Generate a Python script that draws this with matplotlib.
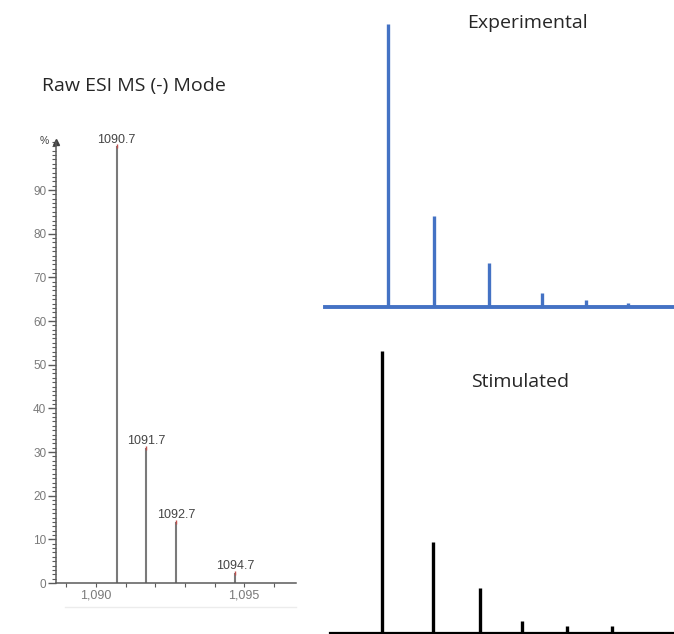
import matplotlib.pyplot as plt
from matplotlib.ticker import MultipleLocator, FuncFormatter
from matplotlib.lines import Line2D

# Raw ESI MS (-) spectrum
raw_mz = [1090.7, 1091.7, 1092.7, 1094.7]
raw_pct = [100, 31, 14, 2.3]
raw_labels = ['1090.7', '1091.7', '1092.7', '1094.7']

# Experimental isotope pattern (relative position, relative intensity)
exp_pos = [6.3, 10.9, 16.4, 21.7, 26.1, 30.3]
exp_int = [100, 32.2, 15.5, 4.9, 2.5, 1.4]

# Simulated isotope pattern
sim_pos = [5.2, 10.3, 15.0, 19.2, 23.7, 28.2]
sim_int = [100, 32.3, 16.0, 4.3, 2.5, 2.5]

W, H = 674, 634
fig = plt.figure(figsize=(W / 100, H / 100), dpi=100)


def box(l, t, r, b):
    return [l / W, 1 - b / H, (r - l) / W, (b - t) / H]


title_font = 'Open Sans'
title_size = 14
gray = '#7a7a7a'
axis_gray = '#5a5a5a'

# ---- left panel: raw spectrum ----
ax = fig.add_axes(box(56, 142, 296, 583))
ax.vlines(raw_mz, 0, raw_pct, color=gray, lw=1.5)
ax.plot(raw_mz, raw_pct, '|', color='#c0504d', ms=3, mew=1)
for mz, p, lab in zip(raw_mz, raw_pct, raw_labels):
    ax.annotate(lab, (mz, p), xytext=(0, 0.5), textcoords='offset points',
                ha='center', va='bottom', fontsize=9, color='#454545',
                family='Liberation Sans')
ax.set_xlim(1088.65, 1096.75)
ax.set_ylim(0, 101)
ax.set_yticks(range(0, 100, 10))
ax.yaxis.set_minor_locator(MultipleLocator(1))
ax.xaxis.set_major_locator(MultipleLocator(5))
ax.xaxis.set_minor_locator(MultipleLocator(1))
ax.xaxis.set_major_formatter(FuncFormatter(lambda v, p: f'{int(v):,}'))
for s in ['top', 'right']:
    ax.spines[s].set_visible(False)
for s in ['left', 'bottom']:
    ax.spines[s].set_color(axis_gray)
    ax.spines[s].set_linewidth(1.1)
ax.tick_params(axis='y', which='major', length=6, width=1, color=axis_gray,
               labelsize=8.5, labelcolor=gray, pad=1)
ax.tick_params(axis='y', which='minor', length=3, width=0.8, color=axis_gray)
ax.tick_params(axis='x', which='both', length=3, width=0.8, color=axis_gray,
               labelsize=9, labelcolor=gray, pad=2)
for t in ax.get_xticklabels() + ax.get_yticklabels():
    t.set_family('Liberation Sans')
ax.plot([0], [1], marker='^', transform=ax.transAxes, clip_on=False,
        color='#404040', ms=5)
fig.text(44 / W, 1 - 141 / H, '%', fontsize=7.5, color='#404040',
         ha='center', va='center', family='Liberation Sans')
fig.add_artist(Line2D([65 / W, 296 / W], [1 - 607 / H, 1 - 607 / H],
                      color='#ececec', lw=1))
fig.text(42 / W, 1 - 86 / H, 'Raw ESI MS (-) Mode', fontsize=title_size,
         ha='left', va='center', family=title_font, color='#262626')

# ---- top right: experimental ----
ax2 = fig.add_axes(box(325, 24, 674, 307))
ax2.vlines(exp_pos, 0, exp_int, color='#4472c4', lw=2.4)
ax2.set_xlim(0, 34.9)
ax2.set_ylim(0, 100)
for s in ['top', 'right', 'left']:
    ax2.spines[s].set_visible(False)
ax2.spines['bottom'].set_color('#4472c4')
ax2.spines['bottom'].set_linewidth(2.8)
ax2.set_xticks([])
ax2.set_yticks([])
ax2.patch.set_alpha(0)
fig.text(527 / W, 1 - 23 / H, 'Experimental', fontsize=title_size,
         ha='center', va='center', family=title_font, color='#262626')

# ---- bottom right: simulated ----
ax3 = fig.add_axes(box(330, 351, 674, 633))
ax3.vlines(sim_pos, 0, sim_int, color='black', lw=2.4)
ax3.set_xlim(0, 34.4)
ax3.set_ylim(0, 100)
for s in ['top', 'right', 'left']:
    ax3.spines[s].set_visible(False)
ax3.spines['bottom'].set_linewidth(1.6)
ax3.set_xticks([])
ax3.set_yticks([])
ax3.patch.set_alpha(0)
fig.text(520 / W, 1 - 382 / H, 'Stimulated', fontsize=title_size,
         ha='center', va='center', family=title_font, color='#262626')

fig.savefig('out.png', dpi=100)
